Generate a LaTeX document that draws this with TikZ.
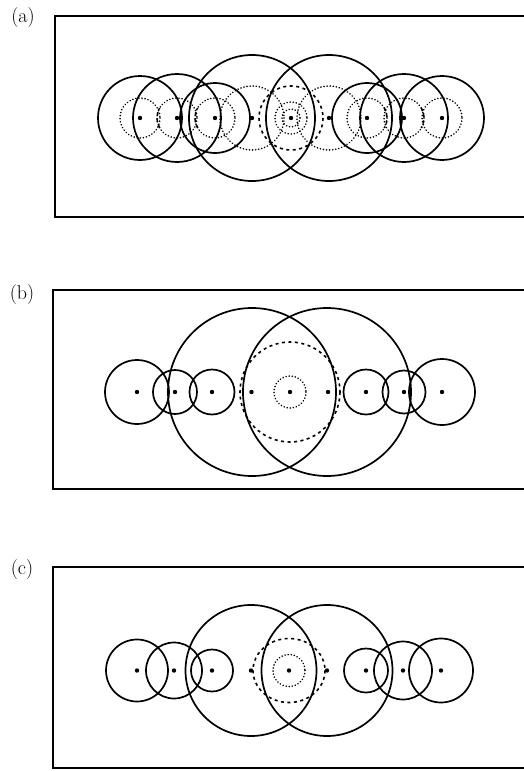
\documentclass[tikz,border=0pt]{standalone}
\usepackage{fontspec}
\tikzset{
  solid circ/.style={line width=1.7pt},
  dotted circ/.style={line width=1.7pt, dash pattern=on 0.1pt off 3pt, line cap=round},
  dashed circ/.style={line width=1.6pt, dash pattern=on 3pt off 3.5pt},
  frame/.style={line width=2pt},
  lab/.style={font=\fontsize{20}{24}\selectfont, inner sep=0pt}}
\begin{document}
\begin{tikzpicture}[x=1pt,y=-1pt]
\useasboundingbox (0,0) rectangle (524,771);
\clip (0,0) rectangle (524,771);
\fill[white] (0,0) rectangle (524,771);
% ---------- panel (a) ----------
\node[lab] (la) at (23,18) {(a)};
\draw[frame] (545,16) -- (55,16) -- (55,217) -- (545,217);
\foreach \x/\r in {140/42,177/44,215/35,252/63,329/63,367/35,404/44,442/42}
  \draw[solid circ] (\x,118) circle (\r);
\foreach \x in {140,177,215,367,404,442}
  \draw[dotted circ] (\x,118) circle (20);
\foreach \x in {252,329}
  \draw[dotted circ] (\x,118) circle (32);
\draw[dotted circ] (291,118) circle (16);
\draw[dotted circ] (291,118) circle (9);
\draw[dashed circ] (291,118) circle (32);
\foreach \x in {177,215}
  \draw[dashed circ] (\x,118) ++(150:20) arc (150:210:20);
\foreach \x in {367,404}
  \draw[dashed circ] (\x,118) ++(-30:20) arc (-30:30:20);
\foreach \x in {140,177,215,252,291,329,367,404,442}
  \fill (\x,118) circle (2.2);
% ---------- panel (b) ----------
\node[lab] (lb) at (22,295) {(b)};
\draw[frame] (545,290) -- (53,290) -- (53,489) -- (545,489);
\foreach \x/\r in {137/32,175/22,212/22.5,252/84,327/84,366/22.5,404/21.5,442/33}
  \draw[solid circ] (\x,392) circle (\r);
\draw[dashed circ] (290,392) circle (50);
\draw[dotted circ] (290,392) circle (16);
\foreach \x in {137,175,212,251.5,290,328,366,404,442}
  \fill (\x,392) circle (2.2);
% ---------- panel (c) ----------
\node[lab] (lc) at (22,570) {(c)};
\draw[frame] (545,567) -- (53,567) -- (53,768) -- (545,768);
\foreach \x/\r in {137/31,174/28,212/21,251/65.5,327/65.5,366/22,403/29,441/32}
  \draw[solid circ] (\x,670.5) circle (\r);
\draw[dashed circ] (289,670.5) ellipse [x radius=36, y radius=32];
\draw[dotted circ] (289,670.5) circle (16);
\foreach \x in {137,174,212,251,289,327,366,403,441}
  \fill (\x,670.5) circle (2.2);
\end{tikzpicture}
\end{document}
